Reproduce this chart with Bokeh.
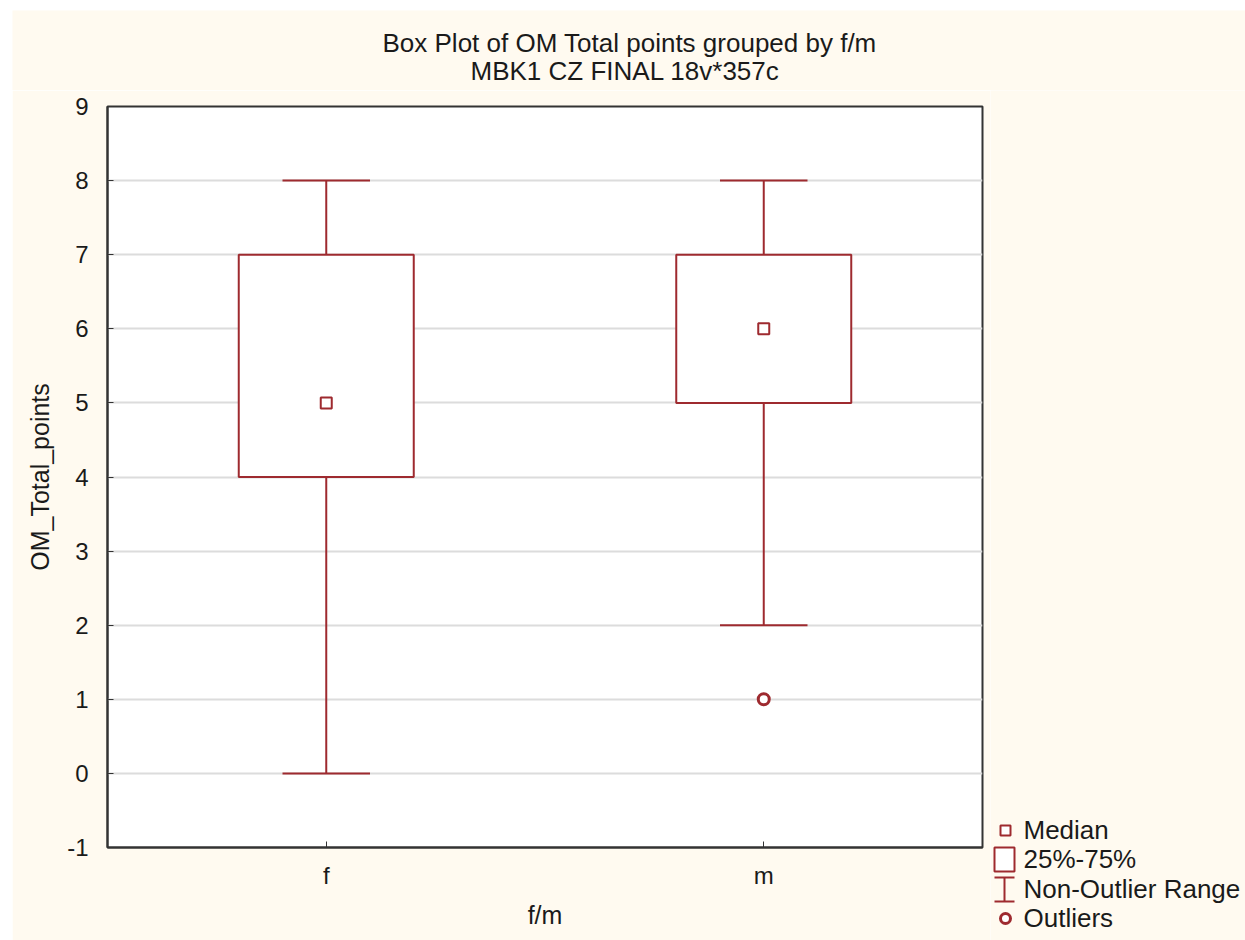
from bokeh.plotting import figure
from bokeh.models import (FactorRange, Range1d, FixedTicker, ColumnDataSource, Spacer)
from bokeh.transform import dodge
from bokeh.layouts import row, column
from bokeh.embed import file_html
from bokeh.resources import INLINE
from bokeh.core.properties import value

# ---- data ----
groups = ["f", "m"]
lower = [0, 2]
q1 = [4, 5]
median = [5, 6]
q3 = [7, 7]
upper = [8, 8]
outlier_groups = ["m"]
outlier_values = [1]
y_ticks = list(range(-1, 10))
legend_labels = ["Median", "25%-75%", "Non-Outlier Range", "Outliers"]

title_lines = ["Box Plot of OM  Total  points grouped by  f/m", "MBK1  CZ  FINAL 18v*357c"]
x_label = "f/m"
y_label = "OM_Total_points"

RED = "#9e2a2f"
CREAM = "#fffaf0"
FONT = "Liberation Sans"
TXT = "#1a1a1a"

# ---- layout geometry (pixels) ----
PAD_L, PAD_T = 12, 10
TITLE_H = 80
FRAME_W, FRAME_H = 875, 741
BL, BR, BT, BB = 95, 8, 16, 93
LEG_W = 255
TOTAL_W = 1245 - PAD_L

src = ColumnDataSource(dict(group=groups, lower=lower, q1=q1, median=median, q3=q3, upper=upper))
osrc = ColumnDataSource(dict(group=outlier_groups, value=outlier_values))


def panel(w, h):
    f = figure(width=w, height=h, x_range=Range1d(0, w), y_range=Range1d(h, 0),
               output_backend="svg", toolbar_location=None,
               min_border=0, min_border_left=0, min_border_right=0,
               min_border_top=0, min_border_bottom=0)
    f.frame_align = False
    f.axis.visible = False
    f.grid.grid_line_color = None
    f.outline_line_color = None
    f.background_fill_color = CREAM
    f.border_fill_color = CREAM
    return f


# ---- title strip ----
tf = panel(TOTAL_W, TITLE_H)
tf.text(x=[370, 458], y=[32, 60], text=title_lines, text_font=value(FONT), text_font_size="26px",
        text_baseline="middle", text_align="left", text_color=TXT)

# ---- main plot ----
p = figure(width=BL + FRAME_W + BR, height=BT + FRAME_H + BB,
           x_range=FactorRange(*groups), y_range=Range1d(-1, 9),
           output_backend="svg", toolbar_location=None,
           min_border_left=BL, min_border_right=BR, min_border_top=BT, min_border_bottom=BB)
p.background_fill_color = "white"
p.border_fill_color = CREAM
p.outline_line_color = "#333333"
p.outline_line_width = 2

p.yaxis.ticker = FixedTicker(ticks=y_ticks)
p.yaxis.major_label_overrides = {-1: "-1"}
for ax in (p.xaxis[0], p.yaxis[0]):
    ax.axis_line_color = "#333333"
    ax.axis_line_width = 2
    ax.major_tick_in = 6
    ax.major_tick_out = 0
    ax.major_tick_line_color = "#333333"
    ax.major_tick_line_width = 1
    ax.minor_tick_line_color = None
    ax.major_label_text_font = FONT
    ax.major_label_text_font_size = "24px"
    ax.major_label_text_color = TXT
    ax.axis_label_text_font = FONT
    ax.axis_label_text_font_size = "25px"
    ax.axis_label_text_font_style = "normal"
    ax.axis_label_text_color = TXT
p.yaxis.major_label_standoff = 19
p.xaxis.major_label_standoff = 14
p.yaxis.axis_label = y_label
p.xaxis.axis_label = x_label
p.yaxis.axis_label_standoff = 10
p.xaxis.axis_label_standoff = 9

p.xgrid.grid_line_color = None
p.ygrid.ticker = FixedTicker(ticks=list(range(0, 9)))
p.ygrid.grid_line_color = "#dcdcdc"
p.ygrid.grid_line_width = 2

# whiskers
p.segment(x0="group", x1="group", y0="q3", y1="upper", source=src, line_color=RED, line_width=2)
p.segment(x0="group", x1="group", y0="lower", y1="q1", source=src, line_color=RED, line_width=2)
p.segment(x0=dodge("group", -0.1, range=p.x_range), x1=dodge("group", 0.1, range=p.x_range),
          y0="upper", y1="upper", source=src, line_color=RED, line_width=2)
p.segment(x0=dodge("group", -0.1, range=p.x_range), x1=dodge("group", 0.1, range=p.x_range),
          y0="lower", y1="lower", source=src, line_color=RED, line_width=2)
# boxes
p.vbar(x="group", width=0.4, bottom="q1", top="q3", source=src,
       fill_color="white", line_color=RED, line_width=2)
# medians
p.scatter(x="group", y="median", source=src, marker="square", size=11,
          fill_color="white", line_color=RED, line_width=2)
# outliers
p.scatter(x="group", y="value", source=osrc, marker="circle", size=11,
          fill_color="white", line_color=RED, line_width=3)

# ---- legend panel ----
q = panel(LEG_W, BT + FRAME_H + BB)
off = PAD_T + TITLE_H
row_y = [830 - off, 859 - off, 889 - off, 918 - off]
icon_x = 14
q.scatter(x=[icon_x + 1], y=[row_y[0]], marker="square", size=10,
          fill_color="white", line_color=RED, line_width=2)
q.rect(x=[icon_x], y=[row_y[1]], width=20, height=24, fill_color="white", line_color=RED, line_width=2)
q.segment(x0=[icon_x], x1=[icon_x], y0=[row_y[2] - 12], y1=[row_y[2] + 12], line_color=RED, line_width=2)
q.segment(x0=[icon_x - 10, icon_x - 10], x1=[icon_x + 10, icon_x + 10],
          y0=[row_y[2] - 12, row_y[2] + 12], y1=[row_y[2] - 12, row_y[2] + 12], line_color=RED, line_width=2)
q.scatter(x=[icon_x + 1], y=[row_y[3]], marker="circle", size=10,
          fill_color="white", line_color=RED, line_width=3)
q.text(x=[33] * 4, y=[y - 1 for y in row_y], text=legend_labels, text_font=value(FONT),
       text_font_size="26px", text_baseline="middle", text_align="left", text_color=TXT)

layout = column(Spacer(height=PAD_T),
                row(Spacer(width=PAD_L), column(tf, row(p, q, spacing=0), spacing=0), spacing=0),
                spacing=0)
open("out.html", "w").write(file_html(layout, INLINE))
